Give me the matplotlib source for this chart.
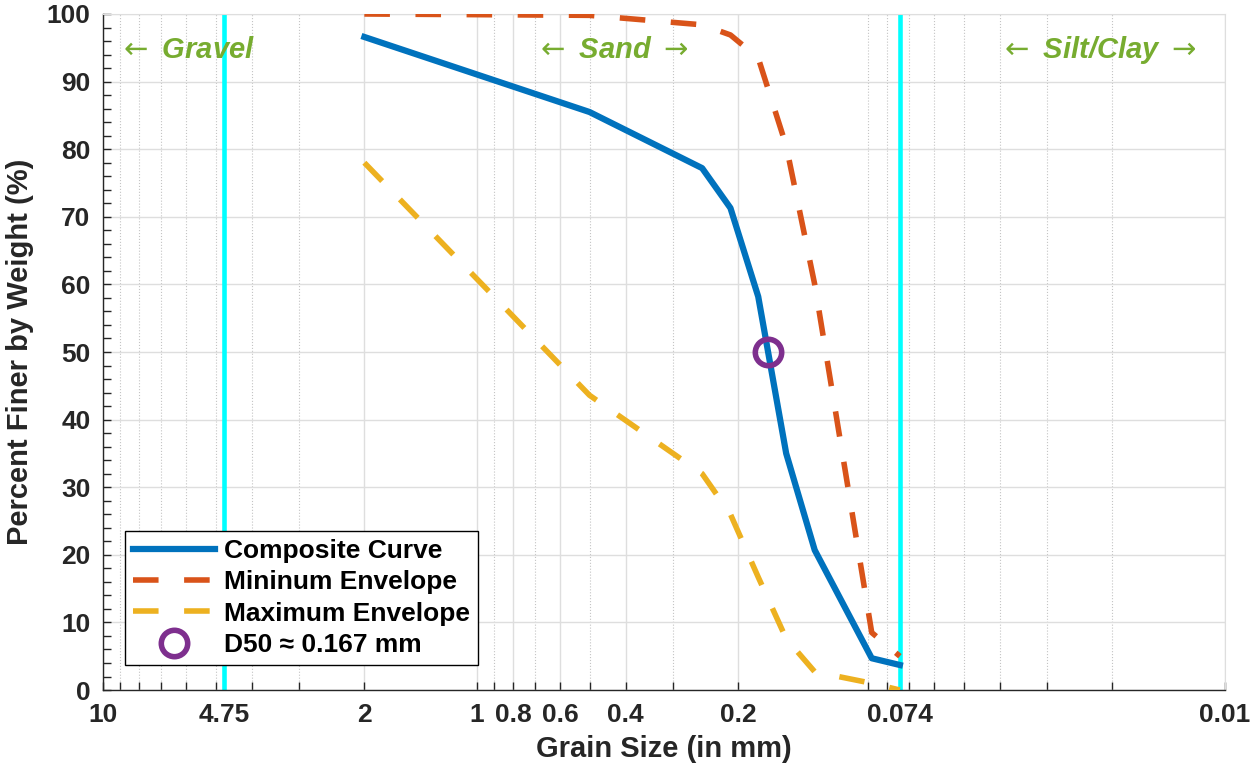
import matplotlib
matplotlib.use("Agg")
import matplotlib.pyplot as plt
from matplotlib.ticker import FixedLocator, MultipleLocator, NullFormatter

plt.rcParams['font.family'] = ['Liberation Sans', 'DejaVu Sans']
plt.rcParams['mathtext.fontset'] = 'dejavusans'

# sieve sizes (mm) and percent finer
sieve_mm = [2.0, 0.5, 0.25, 0.21, 0.177, 0.149, 0.125, 0.088, 0.074]
composite = [96.6, 85.5, 77.2, 71.3, 58.2, 35.0, 20.7, 4.7, 3.7]
min_env = [100.0, 99.8, 98.4, 96.9, 93.5, 80.5, 60.0, 8.5, 5.0]
max_env = [78.0, 43.6, 32.0, 26.0, 16.7, 7.6, 2.7, 1.0, 0.0]

d50 = 0.167
d50_pct = 50

boundaries = [4.75, 0.074]
xtick_vals = [10, 4.75, 2, 1, 0.8, 0.6, 0.4, 0.2, 0.074, 0.01]
xtick_labels = ['10', '4.75', '2', '1', '0.8', '0.6', '0.4', '0.2', '0.074', '0.01']

blue = '#0072BD'
red = '#D95319'
yellow = '#EDB120'
purple = '#7E2F8E'
green = '#77AC30'
dark = '#262626'

fig = plt.figure(figsize=(12.6, 7.69), dpi=100)
ax = fig.add_axes([0.0817, 0.1027, 0.8905, 0.8791])

dash = (0, (4.6, 4.6))
ax.plot(sieve_mm, composite, color=blue, lw=4.5, label='Composite Curve', zorder=4)
ax.plot(sieve_mm, min_env, color=red, lw=4, ls=dash, dash_capstyle='butt',
        label='Mininum Envelope', zorder=3)
ax.plot(sieve_mm, max_env, color=yellow, lw=4, ls=dash, dash_capstyle='butt',
        label='Maximum Envelope', zorder=3)
ax.plot([d50], [d50_pct], 'o', ms=19, mfc='none', mec=purple, mew=4,
        label='D50 \u2248 0.167 mm', zorder=5)

for b in boundaries:
    ax.axvline(b, color='#00FFFF', lw=3.3, zorder=2)

ax.set_xscale('log')
ax.set_xlim(10, 0.01)
ax.set_ylim(0, 100)

# ticks
ax.xaxis.set_major_locator(FixedLocator(xtick_vals))
ax.set_xticklabels(xtick_labels)
minor = []
for dec in [0.01, 0.1, 1]:
    for k in range(2, 10):
        v = round(k * dec, 4)
        if v not in xtick_vals:
            minor.append(v)
ax.xaxis.set_minor_locator(FixedLocator(minor))
ax.xaxis.set_minor_formatter(NullFormatter())
ax.yaxis.set_major_locator(MultipleLocator(10))
ax.yaxis.set_minor_locator(MultipleLocator(2))

ax.tick_params(which='both', direction='in', top=False, right=False,
               colors=dark, length=6, width=1)
ax.tick_params(which='major', labelsize=19, pad=9)
for lbl in ax.get_xticklabels() + ax.get_yticklabels():
    lbl.set_fontweight('bold')

ax.grid(which='major', axis='both', color='#dedede', lw=1, ls='-')
ax.grid(which='minor', axis='x', color='#c4c4c4', lw=0.8, ls=':')
ax.set_axisbelow(True)

for s in ['left', 'bottom']:
    ax.spines[s].set_color(dark)
    ax.spines[s].set_linewidth(1)
for s in ['top', 'right']:
    ax.spines[s].set_color('#dedede')

ax.set_xlabel('Grain Size (in mm)', fontsize=21, fontweight='bold', color=dark, labelpad=6)
ax.set_ylabel('Percent Finer by Weight (%)', fontsize=21, fontweight='bold', color=dark, labelpad=9)

# region labels
txt_kw = dict(color=green, fontsize=21, fontweight='bold', fontstyle='italic', va='center')
ax.text(9.1, 94.7, r'$\leftarrow$ Gravel', ha='left', **txt_kw)
ax.text(0.4355, 94.7, r'$\leftarrow$ Sand $\rightarrow$', ha='center', **txt_kw)
ax.text(0.0219, 94.7, r'$\leftarrow$ Silt/Clay $\rightarrow$', ha='center', **txt_kw)

leg = ax.legend(loc='lower left', bbox_to_anchor=(0.0196, 0.037), borderaxespad=0,
                fancybox=False, edgecolor='black', framealpha=1,
                prop=dict(size=19, weight='bold'), handlelength=3.1,
                handletextpad=0.35, labelspacing=0.28, borderpad=0.3)
leg.get_frame().set_linewidth(1)

fig.savefig('out.png', dpi=100)
